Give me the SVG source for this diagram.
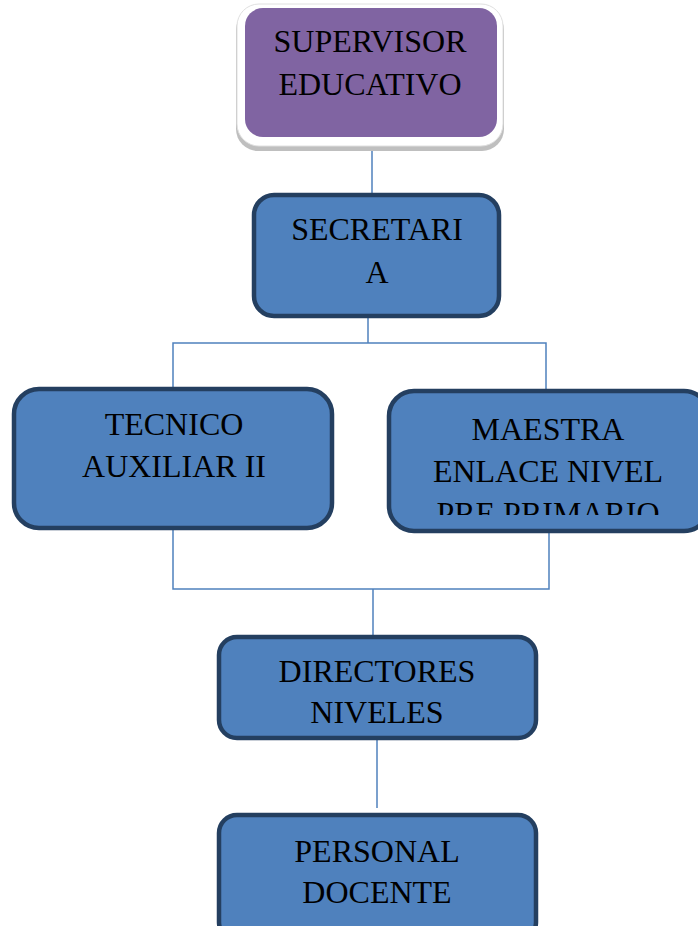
<svg xmlns="http://www.w3.org/2000/svg" width="698" height="926" viewBox="0 0 698 926">
<style>
.box{fill:#4F81BD;stroke:#243F60;stroke-width:4.5}
.t{font-family:"Liberation Serif","Times New Roman",serif;font-size:32px;fill:#000;text-anchor:middle}
.c{stroke:#4F81BD;stroke-width:1.5;fill:none}
</style>
<defs>
<clipPath id="clipM"><rect x="388" y="390" width="310" height="125"/></clipPath>
</defs>
<rect width="698" height="926" fill="#fff"/>
<g id="connectors">
<line class="c" x1="372" y1="146" x2="372" y2="194"/>
<polyline class="c" points="368,317 368,343"/>
<polyline class="c" points="173,388 173,343 546,343 546,390"/>
<polyline class="c" points="173,529 173,589 549,589 549,532"/>
<line class="c" x1="373" y1="589" x2="373" y2="636"/>
<line class="c" x1="377" y1="739" x2="377" y2="808"/>
</g>
<g id="supervisor">
<rect x="236" y="8" width="268" height="143" rx="22" fill="#BFBFBF"/>
<rect x="237" y="4" width="266" height="142" rx="22" fill="#fff" stroke="#E0E0E0" stroke-width="1"/>
<rect x="245" y="8" width="252" height="129" rx="18" fill="#8064A2"/>
<text class="t" x="370" y="52">SUPERVISOR</text>
<text class="t" x="370" y="95">EDUCATIVO</text>
</g>
<g id="secretaria">
<rect class="box" x="254" y="195" width="245" height="121" rx="20"/>
<text class="t" x="377" y="240">SECRETARI</text>
<text class="t" x="377" y="283">A</text>
</g>
<g id="tecnico">
<rect class="box" x="14" y="389" width="318" height="139" rx="25"/>
<text class="t" x="174" y="435">TECNICO</text>
<text class="t" x="174" y="477">AUXILIAR II</text>
</g>
<g id="maestra">
<rect class="box" x="389" y="391" width="320" height="140" rx="25"/>
<text class="t" x="548" y="440">MAESTRA</text>
<text class="t" x="548" y="482">ENLACE NIVEL</text>
<text class="t" x="548" y="524" clip-path="url(#clipM)">PRE PRIMARIO</text>
</g>
<g id="directores">
<rect class="box" x="219" y="637" width="317" height="101" rx="18"/>
<text class="t" x="377" y="682">DIRECTORES</text>
<text class="t" x="377" y="723">NIVELES</text>
</g>
<g id="personal">
<rect class="box" x="219" y="815" width="317" height="125" rx="18"/>
<text class="t" x="377" y="862">PERSONAL</text>
<text class="t" x="377" y="903">DOCENTE</text>
</g>
</svg>
